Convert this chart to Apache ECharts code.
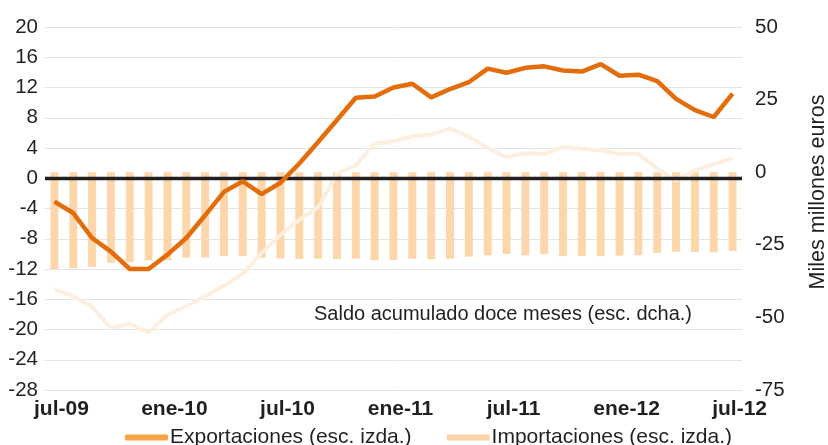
<!DOCTYPE html>
<html>
<head>
<meta charset="utf-8">
<script src="https://cdn.jsdelivr.net/npm/echarts@6/dist/echarts.min.js"></script>
<style>
  html, body { margin: 0; padding: 0; background: #fff; }
  #chart { width: 828px; height: 445px; }
</style>
</head>
<body>
<div id="chart"></div>
<script>
// meses jul-09 .. jul-12
var months = ['jul-09', 'ago-09', 'sep-09', 'oct-09', 'nov-09', 'dic-09',
    'ene-10', 'feb-10', 'mar-10', 'abr-10', 'may-10', 'jun-10',
    'jul-10', 'ago-10', 'sep-10', 'oct-10', 'nov-10', 'dic-10',
    'ene-11', 'feb-11', 'mar-11', 'abr-11', 'may-11', 'jun-11',
    'jul-11', 'ago-11', 'sep-11', 'oct-11', 'nov-11', 'dic-11',
    'ene-12', 'feb-12', 'mar-12', 'abr-12', 'may-12', 'jun-12', 'jul-12'];

// tasas de variacion (esc. izda.)
var exportaciones = [-3.1, -4.6, -7.9, -9.7, -12.0, -12.0, -10.1, -7.9, -4.9, -1.8,
    -0.4, -2.1, -0.6, 1.95, 4.8, 7.7, 10.65, 10.8, 12.0, 12.5,
    10.7, 11.8, 12.7, 14.5, 13.95, 14.6, 14.8, 14.25, 14.1, 15.1,
    13.55, 13.7, 12.85, 10.5, 9.0, 8.1, 11.2];

var importaciones = [-14.7, -15.6, -17.0, -19.8, -19.2, -20.4, -18.05, -16.9, -15.6, -14.2,
    -12.65, -9.9, -7.5, -5.5, -3.85, 0.6, 1.7, 4.6, 4.9, 5.55,
    5.8, 6.6, 5.5, 4.0, 2.8, 3.3, 3.2, 4.15, 3.9, 3.7,
    3.2, 3.2, 1.3, -0.3, 1.07, 1.86, 2.7];

// saldo acumulado doce meses, miles de millones (esc. dcha.)
var saldo = [-33.4, -33.1, -32.6, -31.2, -31.0, -30.3, -30.3, -29.5, -29.4, -28.9,
    -28.9, -29.5, -29.7, -29.9, -29.8, -29.9, -29.8, -30.3, -30.2, -29.8,
    -30.0, -29.8, -29.1, -28.6, -28.2, -28.6, -28.2, -28.9, -28.8, -28.9,
    -28.7, -28.6, -27.8, -27.4, -27.5, -27.6, -27.1];

var fontFam = '"Liberation Sans", Arial, Helvetica, sans-serif';
var txtColor = '#231f20';

var myChart = echarts.init(document.getElementById('chart'));

var option = {
    backgroundColor: '#fff',
    animation: false,
    textStyle: { fontFamily: fontFam },
    grid: { left: 45, right: 86, top: 27, bottom: 55 },
    legend: {
        left: 125,
        top: 427,
        padding: 0,
        itemWidth: 43,
        itemHeight: 6,
        itemGap: 35,
        icon: 'roundRect',
        textStyle: { fontSize: 21, color: txtColor, fontFamily: fontFam, padding: [0, 0, 0, -3] },
        data: [
            { name: 'Exportaciones (esc. izda.)', itemStyle: { color: '#f8a443' } },
            { name: 'Importaciones (esc. izda.)', itemStyle: { color: '#fdd5a8' } }
        ]
    },
    xAxis: {
        type: 'category',
        data: months,
        boundaryGap: true,
        axisLine: { show: false },
        axisTick: { show: false },
        axisLabel: {
            interval: 5,
            margin: 9,
            fontSize: 21,
            fontWeight: 'bold',
            color: txtColor,
            padding: [0, 0, 0, 14]
        }
    },
    yAxis: [
        {
            type: 'value',
            min: -28,
            max: 20,
            interval: 4,
            axisLine: { show: false },
            axisTick: { show: false },
            axisLabel: { fontSize: 20.5, color: txtColor, margin: 7 },
            splitLine: { lineStyle: { color: '#e4e4e4', width: 1 } }
        },
        {
            type: 'value',
            position: 'right',
            min: -75,
            max: 50,
            interval: 25,
            axisLine: { show: false },
            axisTick: { show: false },
            axisLabel: { fontSize: 20.5, color: txtColor, margin: 13 },
            splitLine: { show: false }
        }
    ],
    graphic: [
        {
            type: 'text',
            left: 314,
            top: 304,
            style: {
                text: 'Saldo acumulado doce meses (esc. dcha.)',
                fill: txtColor,
                font: '20px ' + fontFam
            }
        },
        {
            type: 'text',
            x: 818,
            y: 192,
            rotation: Math.PI / 2,
            style: {
                text: 'Miles millones euros',
                fill: txtColor,
                font: '21.5px ' + fontFam,
                align: 'center',
                verticalAlign: 'middle'
            }
        }
    ],
    series: [
        {
            name: 'Saldo acumulado doce meses (esc. dcha.)',
            type: 'bar',
            yAxisIndex: 1,
            barWidth: 8,
            z: 2,
            itemStyle: { color: '#fdd7ab' },
            data: saldo
        },
        {
            name: 'Importaciones (esc. izda.)',
            type: 'line',
            yAxisIndex: 0,
            z: 4,
            symbol: 'none',
            lineStyle: { color: '#fdefe0', width: 4 },
            itemStyle: { color: '#fdefe0' },
            data: importaciones,
            // linea del cero en la escala izquierda
            markLine: {
                silent: true,
                symbol: ['none', 'none'],
                label: { show: false },
                lineStyle: { color: '#231f20', width: 3.3, type: 'solid' },
                data: [{ yAxis: 0 }]
            }
        },
        {
            name: 'Exportaciones (esc. izda.)',
            type: 'line',
            yAxisIndex: 0,
            z: 5,
            symbol: 'none',
            lineStyle: { color: '#e46c0b', width: 4.5 },
            itemStyle: { color: '#e46c0b' },
            data: exportaciones
        }
    ]
};

myChart.setOption(option);
window.addEventListener('resize', function () {
    myChart.resize();
});
</script>
</body>
</html>
